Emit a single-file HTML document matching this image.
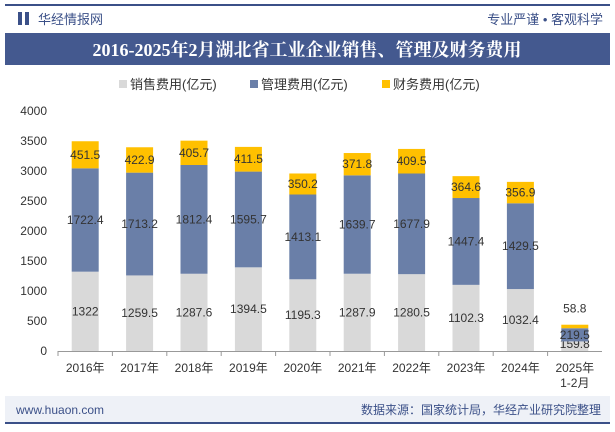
<!DOCTYPE html>
<html><head><meta charset="utf-8"><style>
body{margin:0;width:615px;height:427px;background:#fff;font-family:"Liberation Sans","Noto Sans CJK SC",sans-serif;overflow:hidden}
svg text{font-family:"Liberation Sans","Noto Sans CJK SC",sans-serif}
</style></head><body>
<svg width="615" height="427">
<rect x="5" y="4" width="605" height="2" fill="#3b5088"/>
<rect x="18" y="12" width="4" height="13" fill="#3b5088"/><rect x="25" y="12" width="4" height="13" fill="#3b5088"/>
<text x="38" y="24" font-size="13" fill="#3b5088">华经情报网</text>
<text x="603" y="24" font-size="13" fill="#3b5088" text-anchor="end">专业严谨 • 客观科学</text>
<rect x="5" y="33" width="605" height="32" fill="#44598f"/>
<text x="307" y="56" font-size="18" font-weight="bold" fill="#fff" text-anchor="middle" style="font-family:'Liberation Serif','Noto Serif CJK SC',serif">2016-2025年2月湖北省工业企业销售、管理及财务费用</text>
<g font-size="13" fill="#333">
<rect x="119" y="80" width="8" height="8" fill="#d9d9d9"/><text x="130" y="89">销售费用(亿元)</text>
<rect x="250" y="80" width="8" height="8" fill="#6a7fa8"/><text x="261" y="89">管理费用(亿元)</text>
<rect x="382" y="80" width="8" height="8" fill="#ffc000"/><text x="393" y="89">财务费用(亿元)</text>
</g>
<g id="yaxis" font-size="12" fill="#333" text-anchor="end"></g>
<g id="bars"></g>
<line x1="58" y1="351.5" x2="602" y2="351.5" stroke="#999"/>
<g id="xaxis" font-size="12" fill="#333" text-anchor="middle"></g>
<rect x="5" y="396" width="605" height="26" fill="#eef1f7"/>
<rect x="5" y="422" width="605" height="2" fill="#3b5088"/>
<text x="16" y="414" font-size="12" fill="#3b5088">www.huaon.com</text>
<text x="601" y="414" font-size="12" fill="#3b5088" text-anchor="end">数据来源：国家统计局，华经产业研究院整理</text>
</svg>
<script>
const categories=["2016年","2017年","2018年","2019年","2020年","2021年","2022年","2023年","2024年","2025年"];
const sales=[1322,1259.5,1287.6,1394.5,1195.3,1287.9,1280.5,1102.3,1032.4,159.8];
const mgmt=[1722.4,1713.2,1812.4,1595.7,1413.1,1639.7,1677.9,1447.4,1429.5,219.5];
const finance=[451.5,422.9,405.7,411.5,350.2,371.8,409.5,364.6,356.9,58.8];
const yTicks=[0,500,1000,1500,2000,2500,3000,3500,4000];
const NS="http://www.w3.org/2000/svg";
const y0=351,k=0.06,x0=58,step=54.4,bw=27;
const ys=v=>y0-v*k, xc=i=>x0+step*(i+0.5);
function el(t,a,p,txt){const e=document.createElementNS(NS,t);for(const q in a)e.setAttribute(q,a[q]);if(txt!=null)e.textContent=txt;p.appendChild(e);return e;}
const ya=document.getElementById('yaxis');
yTicks.forEach(v=>{const t=el('text',{x:47,y:ys(v)+4},ya,v);

});
const xa=document.getElementById('xaxis');
categories.forEach((c,i)=>{const t=el('text',{x:xc(i),y:372},xa,c);


const tk=el('line',{x1:x0+step*i,x2:x0+step*i,y1:351,y2:356,stroke:'#999'},xa);

});
const sub=el('text',{x:xc(9),y:387},xa,"1-2月");


const g=document.getElementById('bars');
const series=[[sales,'#d9d9d9','sales'],[mgmt,'#6a7fa8','mgmt'],[finance,'#ffc000','finance']];
categories.forEach((c,i)=>{let base=0;
series.forEach(([arr,col,nm],si)=>{const v=arr[i];const top=base+v;
const r=el('rect',{x:xc(i)-bw/2,y:ys(top),width:bw,height:v*k,fill:col},g);


let ly=ys(base+v/2)+4;
if(i==9){ly=[ys(0)-3,ys(base+v/2)+4,ys(top)-12][si];}
const t=el('text',{x:xc(i),y:ly,'font-size':12,fill:'#333','text-anchor':'middle'},g,v);


base=top;});});
</script>
</body></html>
